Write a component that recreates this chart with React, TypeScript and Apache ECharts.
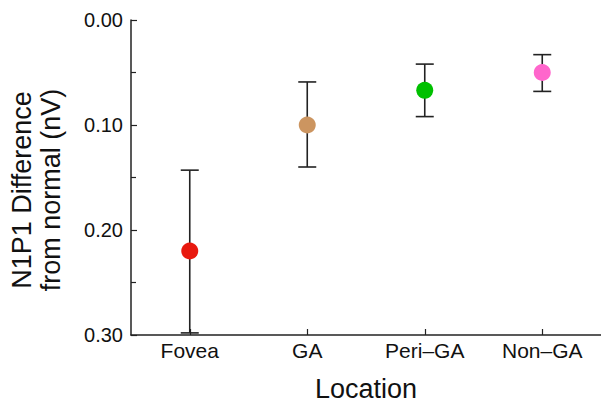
import React, { useEffect, useRef } from "react";
import * as echarts from "echarts";

const categories = ["Fovea", "GA", "Peri\u2013GA", "Non\u2013GA"];
const means = [0.22, 0.1, 0.067, 0.05];
const lowerBounds = [0.143, 0.059, 0.042, 0.033];
const upperBounds = [0.298, 0.14, 0.092, 0.068];
const colors = ["#e8190f", "#cc9560", "#00c000", "#ff66cc"];
const yTicks = [0, 0.1, 0.2, 0.3];

export default function App() {
  const ref = useRef<HTMLDivElement>(null);
  useEffect(() => {
    if (!ref.current) return;
    const chart = echarts.init(ref.current, null, { renderer: "svg" });
    const font = "'Liberation Sans', Arial, Helvetica, sans-serif";
    chart.setOption({
      animation: false,
      backgroundColor: "#ffffff",
      grid: { left: 131, top: 20, width: 472, height: 315 },
      xAxis: {
        type: "category",
        position: "bottom",
        data: categories,
        boundaryGap: true,
        axisLine: { show: true, onZero: false, lineStyle: { color: "#222", width: 1.5 } },
        axisTick: { show: true, inside: true, alignWithLabel: true, length: 6, lineStyle: { color: "#222", width: 1.2 } },
        axisLabel: { color: "#111", fontSize: 21, fontFamily: font, margin: 5 },
        name: "Location",
        nameLocation: "middle",
        nameGap: 40,
        nameTextStyle: { color: "#111", fontSize: 27, fontFamily: font },
      },
      yAxis: {
        type: "value",
        position: "left",
        inverse: true,
        min: yTicks[0],
        max: yTicks[yTicks.length - 1],
        interval: 0.1,
        axisLine: { show: true, onZero: false, lineStyle: { color: "#222", width: 1.5 } },
        axisTick: { show: true, inside: true, length: 6, lineStyle: { color: "#222", width: 1.2 } },
        minorTick: { show: true, splitNumber: 2, length: 5, lineStyle: { color: "#222", width: 1.2 } },
        splitLine: { show: false },
        axisLabel: {
          color: "#111",
          fontSize: 20,
          fontFamily: font,
          margin: 8,
          formatter: (v: number) => v.toFixed(2),
        },
      },
      graphic: [
        {
          type: "text",
          x: 36,
          y: 190,
          rotation: Math.PI / 2,
          style: {
            text: "N1P1 Difference\nfrom normal (nV)",
            fontSize: 27,
            fontFamily: font,
            fill: "#111",
            align: "center",
            verticalAlign: "middle",
            lineHeight: 29,
          },
        },
      ],
      series: [
        {
          type: "custom",
          data: categories.map((_, i) => [i, lowerBounds[i], upperBounds[i]]),
          renderItem: (params: any, api: any) => {
            const x = api.value(0);
            const lo = api.coord([x, api.value(1)]);
            const hi = api.coord([x, api.value(2)]);
            const half = 9;
            const style = { stroke: "#222", lineWidth: 1.6 };
            return {
              type: "group",
              children: [
                { type: "line", shape: { x1: lo[0], y1: lo[1], x2: hi[0], y2: hi[1] }, style },
                { type: "line", shape: { x1: lo[0] - half, y1: lo[1], x2: lo[0] + half, y2: lo[1] }, style },
                { type: "line", shape: { x1: hi[0] - half, y1: hi[1], x2: hi[0] + half, y2: hi[1] }, style },
              ],
            };
          },
          z: 2,
        },
        {
          type: "scatter",
          symbol: "circle",
          symbolSize: 17,
          itemStyle: { opacity: 1 },
          data: means.map((v, i) => ({ value: [i, v], itemStyle: { color: colors[i], opacity: 1 } })),
          z: 3,
        },
      ],
    });
    return () => chart.dispose();
  }, []);
  return (
    <div
      ref={ref}
      style={{ position: "fixed", left: 0, top: 0, width: 601, height: 407, background: "#fff" }}
    />
  );
}
